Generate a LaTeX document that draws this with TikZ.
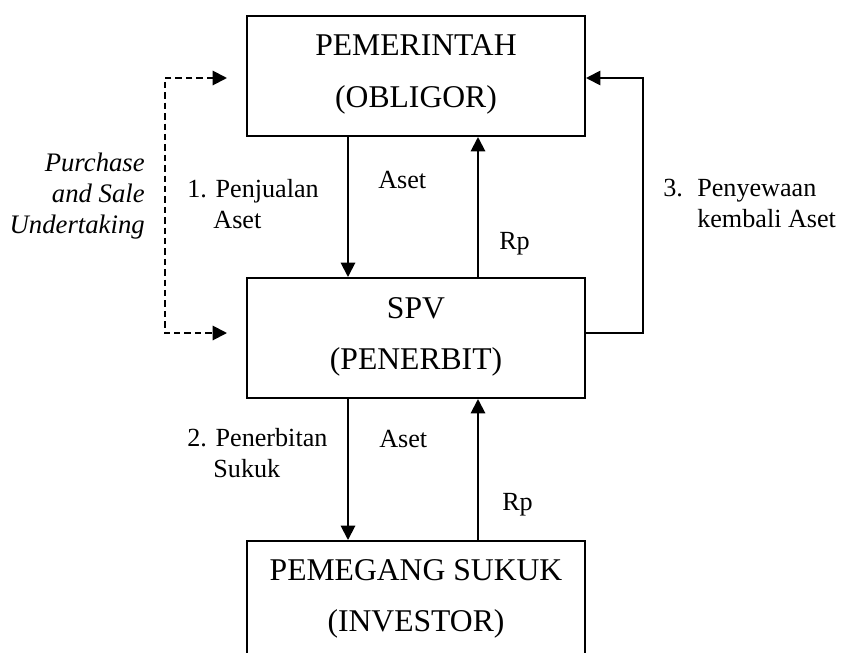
\documentclass[tikz,border=0pt]{standalone}
\usepackage{fontspec}
\setmainfont{Liberation Serif}
\usetikzlibrary{
  arrows.meta,  % 实心三角箭头
  calc          % 坐标计算
}
\tikzset{
  party box/.style={
    draw,
    line width=1.4pt,
    minimum width=8.45cm,
    minimum height=3cm,
    inner sep=0pt
  },
  party name/.style={
    font=\fontsize{22.5}{27}\selectfont,
    inner sep=0pt,
    anchor=base
  },
  flow/.style={
    -{Triangle[length=0.36cm, width=0.36cm]},
    line width=1.4pt
  },
  undertaking/.style={
    {Triangle[length=0.36cm, width=0.36cm]}-{Triangle[length=0.36cm, width=0.36cm]},
    line width=1.4pt,
    dash pattern=on 0.16cm off 0.1cm
  },
  flow label/.style={
    font=\fontsize{18.6}{21.6}\selectfont,
    inner sep=0pt,
    align=left,
    anchor=base west
  }
}

\begin{document}
\begin{tikzpicture}[x=0.025cm, y=-0.025cm, line join=miter]
  % 画面范围：842 x 652 像素
  \useasboundingbox (0,0) rectangle (842,652);
  \clip (0,0) rectangle (842,652);

  % ===================================
  % 三个主体方框
  % ===================================
  \node[party box] (pem) at (416,76) {};
  \node[party box] (spv) at (416,338) {};
  \node[party box] (inv) at (416,601) {};

  \node[party name] (pemA) at (416,55)  {PEMERINTAH};
  \node[party name] (pemB) at (416,107) {(OBLIGOR)};
  \node[party name] (spvA) at (416,318) {SPV};
  \node[party name] (spvB) at (416,369) {(PENERBIT)};
  \node[party name] (invA) at (416,580) {PEMEGANG SUKUK};
  \node[party name] (invB) at (416,631) {(INVESTOR)};

  % ===================================
  % 竖向箭头所在的列与折线拐点
  % ===================================
  \coordinate (colL) at (348,0);   % 向下箭头（资产）
  \coordinate (colR) at (478,0);   % 向上箭头（Rp）
  \coordinate (loopR) at (643,78); % 右侧回租折线
  \coordinate (dTop) at (227,78);  % 虚线上端箭头尖
  \coordinate (dBot) at (227,333); % 虚线下端箭头尖

  % 1. 政府 -> SPV
  \draw[flow] (pem.south -| colL) -- (spv.north -| colL);
  \draw[flow] (spv.north -| colR) -- (pem.south -| colR);

  % 2. SPV -> 投资者
  \draw[flow] (spv.south -| colL) -- (inv.north -| colL);
  \draw[flow] (inv.north -| colR) -- (spv.south -| colR);

  % 3. 回租
  \draw[flow] (spv.east |- dBot) -| (loopR) -- (pem.east |- loopR);

  % 左侧虚线（Purchase and Sale Undertaking）
  \draw[undertaking] (dTop) -- (165,78) -- (165,333) -- (dBot);

  % ===================================
  % 文字标注（多行节点以末行基线定位）
  % ===================================
  \node[flow label, anchor=base east, align=right, font=\fontsize{19}{21.9}\itshape]
    (psu) at (145,233) {Purchase\\and Sale\\Undertaking};
  \node[flow label] (jual) at (187,228) {1. Penjualan\\\hphantom{1.}~Aset};
  \node[flow label] (asetA) at (378,188) {Aset};
  \node[flow label] (rpA) at (499,249) {Rp};
  \node[flow label] (sewa) at (663,227) {3.\hspace{0.55em}Penyewaan\\\hspace*{1.3em}kembali Aset};
  \node[flow label] (terbit) at (187,477) {2. Penerbitan\\\hphantom{2.}~Sukuk};
  \node[flow label] (asetB) at (379,447) {Aset};
  \node[flow label] (rpB) at (502,510) {Rp};

\end{tikzpicture}
\end{document}
